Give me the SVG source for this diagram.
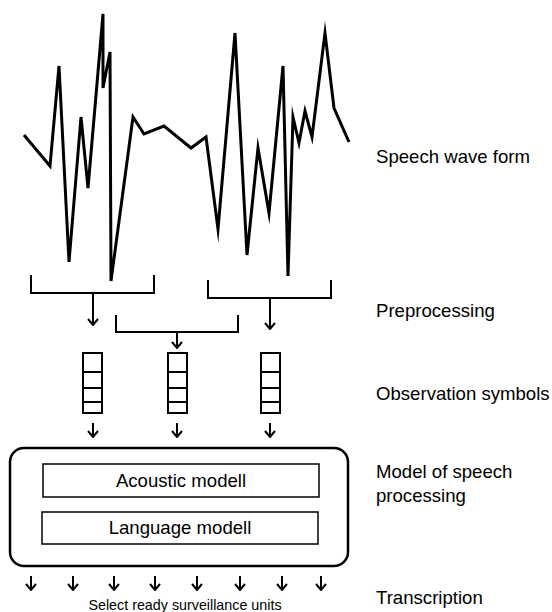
<svg xmlns="http://www.w3.org/2000/svg" width="552" height="612" viewBox="0 0 552 612">
  <style>
    .wave { fill: none; stroke: #000; stroke-width: 3; stroke-linejoin: miter; stroke-miterlimit: 10; }
    .ln { fill: none; stroke: #000; stroke-width: 2; }
    .box { fill: #fff; stroke: #000; stroke-width: 1.5; }
    .frame { fill: #fff; stroke: #000; stroke-width: 2.5; }
    .lbl { font-family: "Liberation Sans", Arial, sans-serif; font-size: 18.6px; fill: #000; }
    .inner { font-family: "Liberation Sans", Arial, sans-serif; font-size: 18.6px; fill: #000; text-anchor: middle; }
    .small { font-family: "Liberation Sans", Arial, sans-serif; font-size: 14.3px; fill: #000; text-anchor: middle; }
  </style>
  <defs>
    <marker id="chev" viewBox="0 0 8 12" refX="7" refY="6" markerWidth="8" markerHeight="12" markerUnits="userSpaceOnUse" orient="auto">
      <path d="M1,1 L7,6 L1,11" fill="none" stroke="#000" stroke-width="2"/>
    </marker>
    <g id="stack">
      <rect x="0" y="0" width="19" height="60" class="ln"/>
      <line x1="0" y1="19" x2="19" y2="19" class="ln"/>
      <line x1="0" y1="35" x2="19" y2="35" class="ln"/>
      <line x1="0" y1="49" x2="19" y2="49" class="ln"/>
    </g>
  </defs>
  <rect width="552" height="612" fill="#fff"/>

  <!-- speech signal -->
  <g id="waveform">
    <polyline class="wave" points="24,135 50,166 59,66 69,262 81,117 88,188 103,14 103,88 110,52 111,281 133,117 144,134 164,126 191,148 206,137 218,229 235,33 247,255 258,148 269,213 283,66 288,276 293,117 299,143 305,111 312,137 325,33 334,108 349,142"/>
  </g>

  <!-- framing brackets -->
  <g id="brackets">
    <polyline class="ln" points="31,275 31,293 154,293 154,275"/>
    <polyline class="ln" points="116,315 116,332 238,332 238,315"/>
    <polyline class="ln" points="208,280 208,298 331,298 331,280"/>
  </g>

  <!-- observation symbol vectors -->
  <g id="obs1"><use href="#stack" x="83" y="353"/></g>
  <g id="obs2"><use href="#stack" x="168" y="353"/></g>
  <g id="obs3"><use href="#stack" x="261" y="353"/></g>

  <!-- recognition model -->
  <g id="model">
    <rect class="frame" x="10" y="448" width="338" height="118" rx="14" ry="14"/>
  </g>
  <g id="acoustic">
    <rect class="box" x="43" y="464" width="276" height="33"/>
    <text class="inner" x="181" y="487">Acoustic modell</text>
  </g>
  <g id="language">
    <rect class="box" x="42" y="512" width="276" height="32"/>
    <text class="inner" x="180" y="534">Language modell</text>
  </g>

  <!-- arrows -->
  <g id="connectors" marker-end="url(#chev)">
    <line class="ln" x1="93" y1="293" x2="93" y2="325"/>
    <line class="ln" x1="177" y1="332" x2="177" y2="348"/>
    <line class="ln" x1="270" y1="298" x2="270" y2="329"/>
    <line class="ln" x1="93" y1="423" x2="93" y2="437"/>
    <line class="ln" x1="177" y1="423" x2="177" y2="437"/>
    <line class="ln" x1="270" y1="423" x2="270" y2="437"/>
    <line class="ln" x1="31" y1="576" x2="31" y2="590"/>
    <line class="ln" x1="73" y1="576" x2="73" y2="590"/>
    <line class="ln" x1="114" y1="576" x2="114" y2="590"/>
    <line class="ln" x1="155" y1="576" x2="155" y2="590"/>
    <line class="ln" x1="197" y1="576" x2="197" y2="590"/>
    <line class="ln" x1="240" y1="576" x2="240" y2="590"/>
    <line class="ln" x1="282" y1="576" x2="282" y2="590"/>
    <line class="ln" x1="321" y1="576" x2="321" y2="590"/>
  </g>

  <text class="small" x="185" y="610">Select ready surveillance units</text>

  <!-- stage labels -->
  <g id="labels">
    <text class="lbl" x="376" y="163">Speech wave form</text>
    <text class="lbl" x="376" y="317">Preprocessing</text>
    <text class="lbl" x="376" y="400">Observation symbols</text>
    <text class="lbl" x="376" y="478">Model of speech</text>
    <text class="lbl" x="376" y="502">processing</text>
    <text class="lbl" x="376" y="604">Transcription</text>
  </g>
</svg>
